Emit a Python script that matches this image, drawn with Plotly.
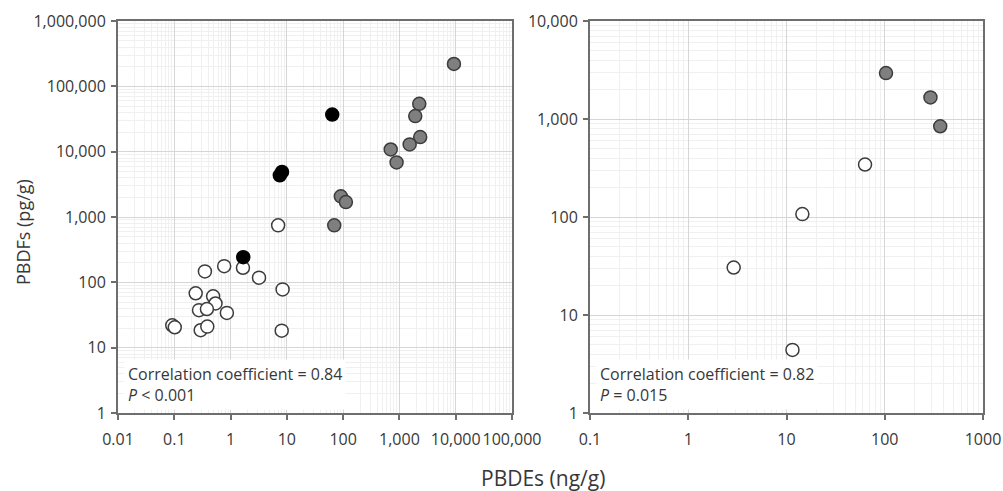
import plotly.graph_objects as go

# ---- left panel data: PBDEs (ng/g) vs PBDFs (pg/g) ----
left_white_x = [7.0, 0.35, 0.77, 1.66, 3.2, 8.4, 0.24, 0.49, 0.54, 0.275, 0.38, 0.86,
                0.092, 0.102, 0.294, 0.386, 8.1]
left_white_y = [745, 147, 177, 167, 118, 78, 68, 61, 47.5, 37.5, 39, 34,
                22, 20.5, 18.5, 21, 18.2]

left_black_x = [64, 7.5, 8.2, 1.68]
left_black_y = [37000, 4350, 4900, 243]

left_gray_x = [9300, 2250, 1910, 2340, 1520, 700, 890, 91, 112, 69.5]
left_gray_y = [220000, 54000, 35000, 16700, 12900, 10800, 6850, 2070, 1690, 745]

# ---- right panel data ----
right_white_x = [63, 14.5, 2.9, 11.5]
right_white_y = [343, 107, 30.5, 4.4]

right_gray_x = [103, 292, 367]
right_gray_y = [2940, 1660, 843]

# ---- tick labels ----
left_xtick_vals = [0.01, 0.1, 1, 10, 100, 1000, 10000, 100000]
left_xtick_text = ["0.01", "0.1", "1", "10", "100", "1,000", "10,000", "100,000"]
left_ytick_vals = [1, 10, 100, 1000, 10000, 100000, 1000000]
left_ytick_text = ["1", "10", "100", "1,000", "10,000", "100,000", "1,000,000"]
right_xtick_vals = [0.1, 1, 10, 100, 1000]
right_xtick_text = ["0.1", "1", "10", "100", "1000"]
right_ytick_vals = [1, 10, 100, 1000, 10000]
right_ytick_text = ["1", "10", "100", "1,000", "10,000"]

W, H = 1003, 491
FONT = "Open Sans"
TXT = "#383838"

white_marker = dict(size=13, color="white", line=dict(color="#3c3c3c", width=1.5))
gray_marker = dict(size=13, color="#7f7f7f", line=dict(color="#3c3c3c", width=1.5))
black_marker = dict(size=13, color="black", line=dict(color="black", width=1.5))

fig = go.Figure()
fig.add_trace(go.Scatter(x=left_white_x, y=left_white_y, mode="markers",
                         marker=white_marker, xaxis="x", yaxis="y"))
fig.add_trace(go.Scatter(x=left_gray_x, y=left_gray_y, mode="markers",
                         marker=gray_marker, xaxis="x", yaxis="y"))
fig.add_trace(go.Scatter(x=left_black_x, y=left_black_y, mode="markers",
                         marker=black_marker, xaxis="x", yaxis="y"))
fig.add_trace(go.Scatter(x=right_white_x, y=right_white_y, mode="markers",
                         marker=white_marker, xaxis="x2", yaxis="y2"))
fig.add_trace(go.Scatter(x=right_gray_x, y=right_gray_y, mode="markers",
                         marker=gray_marker, xaxis="x2", yaxis="y2"))


def log_axis(rng, vals, text, domain, anchor, standoff):
    return dict(
        type="log", range=rng, domain=domain, anchor=anchor,
        tickvals=vals, ticktext=text, tickangle=0, automargin=False,
        ticklabelstandoff=standoff,
        tickfont=dict(family=FONT, size=16, color=TXT),
        showline=True, linecolor="#6e6e6e", linewidth=2, mirror=True,
        ticks="outside", ticklen=5, tickcolor="#6e6e6e", tickwidth=1.5,
        showgrid=True, gridcolor="#d6d6d6", gridwidth=1,
        minor=dict(dtick="D1", showgrid=True, gridcolor="#f0f0f0", gridwidth=1, ticks=""),
        zeroline=False,
    )


ydom = [1 - 413 / H, 1 - 21 / H]
fig.update_layout(
    width=W, height=H,
    margin=dict(l=0, r=0, t=0, b=0, autoexpand=False),
    paper_bgcolor="white", plot_bgcolor="white",
    showlegend=False,
    font=dict(family=FONT, color=TXT),
    xaxis=log_axis([-2, 5], left_xtick_vals, left_xtick_text, [118 / W, 512 / W], "y", 6),
    yaxis=log_axis([0, 6], left_ytick_vals, left_ytick_text, ydom, "x", 2),
    xaxis2=log_axis([-1, 3], right_xtick_vals, right_xtick_text, [590 / W, 983 / W], "y2", 6),
    yaxis2=log_axis([0, 4], right_ytick_vals, right_ytick_text, ydom, "x2", 2),
)

stat_font = dict(family=FONT, size=16, color=TXT)
fig.add_annotation(xref="paper", yref="paper", x=124 / W, y=1 - 410 / H,
                   xanchor="left", yanchor="bottom", align="left",
                   text="Correlation coefficient = 0.84<br><i>P</i> &lt; 0.001",
                   showarrow=False, font=stat_font, bgcolor="white", borderpad=3)
fig.add_annotation(xref="paper", yref="paper", x=596 / W, y=1 - 410 / H,
                   xanchor="left", yanchor="bottom", align="left",
                   text="Correlation coefficient = 0.82<br><i>P</i> = 0.015",
                   showarrow=False, font=stat_font, bgcolor="white", borderpad=3)

# axis titles
fig.add_annotation(xref="paper", yref="paper", x=543 / W, y=1 - 478 / H,
                   xanchor="center", yanchor="middle",
                   text="PBDEs (ng/g)", showarrow=False,
                   font=dict(family=FONT, size=21, color=TXT))
fig.add_annotation(xref="paper", yref="paper", x=23 / W, y=1 - 232 / H,
                   xanchor="center", yanchor="middle",
                   text="PBDFs (pg/g)", showarrow=False, textangle=-90,
                   font=dict(family=FONT, size=18, color=TXT))

fig.write_html("out.html")
